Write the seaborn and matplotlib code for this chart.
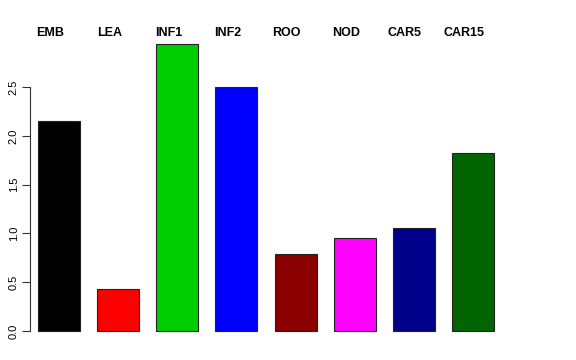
import matplotlib
matplotlib.use("Agg")
import matplotlib.pyplot as plt
import matplotlib.transforms as mtransforms
import pandas as pd
import seaborn as sns

tissues = ["EMB", "LEA", "INF1", "INF2", "ROO", "NOD", "CAR5", "CAR15"]
values = [2.15, 0.43, 2.945, 2.50, 0.785, 0.95, 1.06, 1.82]
colors = ["#000000", "#FF0000", "#00CD00", "#0000FF",
          "#8B0000", "#FF00FF", "#00008B", "#006400"]
y_ticks = [0.0, 0.5, 1.0, 1.5, 2.0, 2.5]

sns.set_theme(style="white")
plt.rcParams["font.family"] = ["Liberation Sans", "DejaVu Sans"]
plt.rcParams["text.color"] = "black"

df = pd.DataFrame({"tissue": tissues, "value": values})

fig = plt.figure(figsize=(5.76, 3.6), dpi=100)
ax = fig.add_axes([30 / 576, 18 / 360, 472 / 576, 310.5 / 360])

sns.barplot(data=df, x="tissue", y="value", hue="tissue", palette=colors,
            width=0.71, edgecolor="#222222", linewidth=0.8, legend=False,
            saturation=1, ax=ax)

ax.set_xlim(-0.49, 7.49)
ax.set_ylim(-0.113, 3.069)
ax.set_xlabel("")
ax.set_ylabel("")
ax.set_xticks([])
ax.set_yticks(y_ticks)
ax.set_yticklabels([f"{t:.1f}" for t in y_ticks], rotation=90, va="center",
                   fontsize=8)
ax.tick_params(axis="y", direction="out", length=6, width=0.8, pad=2,
               colors="#333333", labelcolor="black", left=True)

for side in ["top", "right", "bottom"]:
    ax.spines[side].set_visible(False)
ax.spines["left"].set_bounds(0, 2.5)
ax.spines["left"].set_color("#333333")
ax.spines["left"].set_linewidth(0.8)

# labels sit above the plot, slightly left of each bar centre
trans = mtransforms.blended_transform_factory(ax.transData, ax.transAxes)
for i, name in enumerate(tissues):
    ax.text(i - 0.15, 0.9855, name, transform=trans, ha="center",
            va="baseline", fontsize=9, fontweight="bold", color="black")

fig.savefig("out.png", dpi=100)
